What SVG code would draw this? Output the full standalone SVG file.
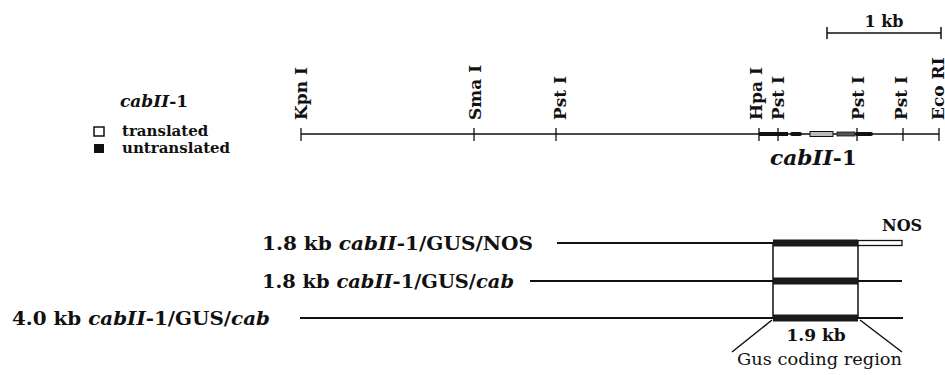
<svg xmlns="http://www.w3.org/2000/svg" width="945" height="375" viewBox="0 0 945 375">
<style>
text{font-family:"DejaVu Serif","Liberation Serif",serif;fill:#111;font-weight:bold}
.i{font-style:italic}
.r{font-weight:normal}
.ln{stroke:#111;fill:none}
.site{font-size:17px}
</style>
<rect width="945" height="375" fill="#fff"/>
<g id="scale">
<text x="884" y="27" font-size="16" text-anchor="middle">1 kb</text>
<path class="ln" stroke-width="1.5" d="M827 33H941M827 27V39M941 27V39"/>
</g>
<g id="legend">
<text x="120" y="107" font-size="17"><tspan class="i">cabII</tspan>-1</text>
<rect x="94" y="127" width="10" height="9" fill="#fff" stroke="#111" stroke-width="1.5"/>
<text x="122" y="136" font-size="15">translated</text>
<rect x="94" y="144" width="10" height="9" fill="#111"/>
<text x="122" y="153" font-size="15">untranslated</text>
</g>
<g id="map">
<path class="ln" stroke-width="1.3" d="M301 134H939M301 128V141M474 128V141M556 128V141M759 128V141M778 128V141M857 128V141M903 128V141M939 128V141"/>
<g class="site">
<text transform="translate(307 120) rotate(-90)">Kpn I</text>
<text transform="translate(481 120) rotate(-90)">Sma I</text>
<text transform="translate(566 120) rotate(-90)">Pst I</text>
<text transform="translate(762 120) rotate(-90)">Hpa I</text>
<text transform="translate(784 120) rotate(-90)">Pst I</text>
<text transform="translate(864 120) rotate(-90)">Pst I</text>
<text transform="translate(907 120) rotate(-90)">Pst I</text>
<text transform="translate(944 120) rotate(-90)">Eco RI</text>
</g>
<g id="gene">
<rect x="759" y="132" width="29" height="4" fill="#111"/>
<rect x="790" y="132" width="12" height="4" rx="2" fill="#111"/>
<rect x="810" y="131.5" width="23" height="5" fill="#bbb" stroke="#111" stroke-width="1"/>
<rect x="837" y="132" width="18" height="4" fill="#555" stroke="#111" stroke-width="0.8"/>
<rect x="855" y="132" width="18" height="4" rx="2" fill="#111"/>
</g>
<text x="770" y="165" font-size="21" textLength="87" lengthAdjust="spacingAndGlyphs"><tspan class="i">cabII</tspan>-1</text>
</g>
<g id="constructs">
<text x="262" y="250" font-size="18" textLength="271" lengthAdjust="spacingAndGlyphs">1.8 kb <tspan class="i">cabII</tspan>-1/GUS/NOS</text>
<text x="262" y="288" font-size="18" textLength="252" lengthAdjust="spacingAndGlyphs">1.8 kb <tspan class="i">cabII</tspan>-1/GUS/<tspan class="i">cab</tspan></text>
<text x="12" y="325" font-size="18" textLength="258" lengthAdjust="spacingAndGlyphs">4.0 kb <tspan class="i">cabII</tspan>-1/GUS/<tspan class="i">cab</tspan></text>
<text x="882" y="231" font-size="16">NOS</text>
<text x="816" y="341" font-size="17" text-anchor="middle">1.9 kb</text>
<text x="737" y="365" font-size="17" class="r" textLength="165" lengthAdjust="spacingAndGlyphs">Gus coding region</text>
</g>
<g id="connectors">
<path class="ln" stroke-width="2" d="M557 243H773M530 281H902M300 318H903"/>
<path class="ln" stroke-width="1.5" d="M773 243V318M858 243V318M772 320L732 352M860 320L902 352"/>
<rect x="773" y="239.5" width="85" height="7" fill="#1a1a1a"/>
<rect x="773" y="277.5" width="85" height="7" fill="#1a1a1a"/>
<rect x="773" y="314.5" width="85" height="7" fill="#1a1a1a"/>
<rect x="858" y="240.5" width="44" height="5" fill="#fff" stroke="#111" stroke-width="1.3"/>
</g>
</svg>
